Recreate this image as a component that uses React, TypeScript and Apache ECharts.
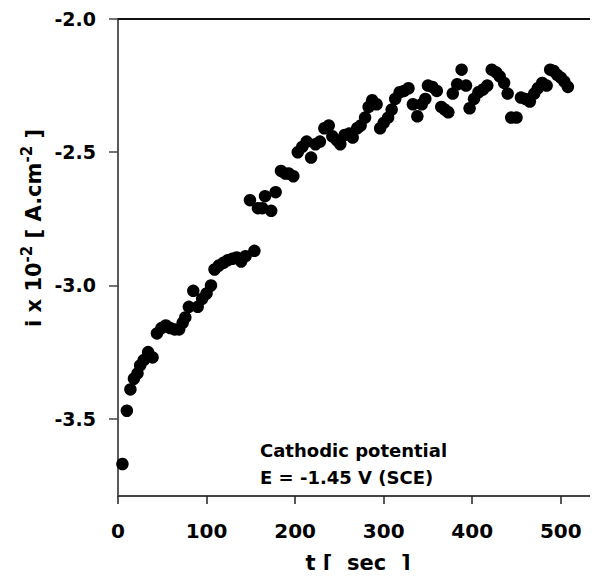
import React, { useEffect, useRef } from "react";
import * as echarts from "echarts";

const timeSec: number[] = [
  5, 10, 14, 18, 22, 25, 29, 34, 39, 44, 49, 54, 59, 64, 69, 73, 76, 80, 85, 90,
  95, 100, 105, 109, 114, 119, 124, 129, 134, 139, 144, 149, 154, 158, 163, 166, 173, 178, 184, 189,
  193, 198, 203, 208, 213, 218, 223, 228, 233, 238, 242, 247, 251, 256, 261, 265, 270, 274, 279, 283,
  287, 292, 296, 300, 305, 309, 313, 318, 323, 328, 333, 338, 343, 347, 350, 355, 360, 365, 369, 373,
  378, 383, 388, 393, 397, 402, 407, 412, 417, 422, 427, 431, 436, 440, 444, 450, 455, 460, 465, 470,
  474, 479, 484, 488, 492, 496, 500, 504, 508,
];
const currentVal: number[] = [
  -3.67, -3.47, -3.39, -3.35, -3.33, -3.3, -3.28, -3.25, -3.27, -3.18, -3.16, -3.15, -3.16, -3.165, -3.165, -3.14, -3.12, -3.08, -3.02, -3.08,
  -3.05, -3.03, -3.0, -2.94, -2.925, -2.915, -2.905, -2.9, -2.895, -2.91, -2.89, -2.68, -2.87, -2.71, -2.71, -2.665, -2.72, -2.65, -2.57, -2.58,
  -2.58, -2.59, -2.5, -2.48, -2.46, -2.52, -2.47, -2.46, -2.41, -2.4, -2.44, -2.455, -2.47, -2.435, -2.43, -2.445, -2.41, -2.4, -2.37, -2.33,
  -2.305, -2.32, -2.41, -2.39, -2.37, -2.34, -2.3, -2.275, -2.27, -2.26, -2.32, -2.365, -2.32, -2.3, -2.25, -2.255, -2.27, -2.33, -2.34, -2.35,
  -2.28, -2.245, -2.19, -2.25, -2.335, -2.3, -2.275, -2.265, -2.25, -2.19, -2.2, -2.215, -2.24, -2.28, -2.37, -2.37, -2.295, -2.3, -2.31, -2.28,
  -2.26, -2.24, -2.25, -2.19, -2.195, -2.21, -2.22, -2.235, -2.255,
];
const xTicks: number[] = [0, 100, 200, 300, 400, 500];
const yTicks: number[] = [-3.5, -3.0, -2.5, -2.0];
const annotationLines: string[] = ["Cathodic potential", "E = -1.45 V (SCE)"];

const FONT = "'DejaVu Sans', 'Liberation Sans', Arial, sans-serif";

export default function App() {
  const ref = useRef<HTMLDivElement>(null);
  useEffect(() => {
    if (!ref.current) return;
    const chart = echarts.init(ref.current, null, { renderer: "svg" });
    const data = timeSec.map((t, i) => [t, currentVal[i]]);
    chart.setOption({
      animation: false,
      backgroundColor: "#ffffff",
      grid: { left: 118, top: 19, right: 0, bottom: 78, containLabel: false },
      xAxis: [
        {
          type: "value",
          min: 0,
          max: 542,
          position: "bottom",
          name: "t [  sec  ]",
          nameLocation: "middle",
          nameGap: 56,
          nameTextStyle: { fontFamily: FONT, fontWeight: "bold", fontSize: 21, color: "#000" },
          splitLine: { show: false },
          axisLine: { show: true, lineStyle: { color: "#444", width: 2 } },
          axisTick: { show: true, length: 8, customValues: xTicks, lineStyle: { color: "#222", width: 1.5 } },
          axisLabel: {
            customValues: xTicks,
            margin: 25,
            fontFamily: FONT,
            fontWeight: "bold",
            fontSize: 20,
            color: "#000",
          },
        },
        {
          type: "value",
          min: 0,
          max: 542,
          position: "top",
          splitLine: { show: false },
          axisLine: { show: true, lineStyle: { color: "#111", width: 2 } },
          axisTick: { show: false },
          axisLabel: { show: false },
        },
      ],
      yAxis: {
        type: "value",
        min: -3.79,
        max: -2.0,
        splitLine: { show: false },
        axisLine: { show: true, lineStyle: { color: "#222", width: 1.5 } },
        axisTick: { show: true, length: 9, customValues: yTicks, lineStyle: { color: "#444", width: 1.5 } },
        axisLabel: {
          customValues: yTicks,
          margin: 22,
          formatter: (v: number) => v.toFixed(1),
          fontFamily: FONT,
          fontWeight: "bold",
          fontSize: 19,
          color: "#000",
        },
      },
      graphic: [
        {
          type: "text",
          x: 34,
          y: 228,
          rotation: Math.PI / 2,
          style: {
            text: "{a|i x 10}{s|-2}{a| [ A.cm}{s|-2}{a| ]}",
            align: "center",
            verticalAlign: "middle",
            fill: "#000",
            rich: {
              a: { fontFamily: FONT, fontWeight: "bold", fontSize: 21, lineHeight: 30, fill: "#000" },
              s: { fontFamily: FONT, fontWeight: "bold", fontSize: 15, lineHeight: 15, verticalAlign: "top", fill: "#000" },
            },
          },
        },
        {
          type: "text",
          x: 260,
          y: 450,
          style: {
            text: annotationLines[0],
            fontFamily: FONT,
            fontWeight: "bold",
            fontSize: 18,
            fill: "#000",
            align: "left",
            verticalAlign: "middle",
          },
        },
        {
          type: "text",
          x: 260,
          y: 477,
          style: {
            text: annotationLines[1],
            fontFamily: FONT,
            fontWeight: "bold",
            fontSize: 18,
            fill: "#000",
            align: "left",
            verticalAlign: "middle",
          },
        },
      ],
      series: [
        {
          type: "scatter",
          xAxisIndex: 0,
          data,
          symbol: "circle",
          symbolSize: 12.5,
          itemStyle: { color: "#000", opacity: 1 },
        },
      ],
    });
    return () => chart.dispose();
  }, []);
  return <div ref={ref} style={{ width: 598, height: 578, margin: -8 }} />;
}
